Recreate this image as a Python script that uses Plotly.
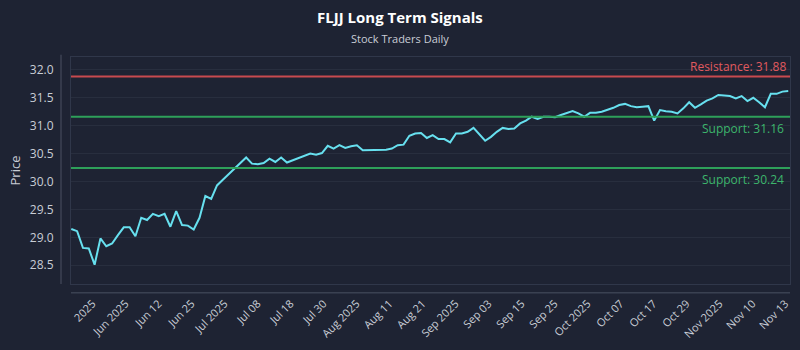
import plotly.graph_objects as go

# ---- data ----
prices = [
    29.15, 29.11, 28.81, 28.80, 28.51, 28.98, 28.84, 28.89, 29.04, 29.18,
    29.18, 29.02, 29.35, 29.31, 29.42, 29.38, 29.42, 29.19, 29.47, 29.22,
    29.21, 29.14, 29.35, 29.74, 29.69, 29.93, 30.03, 30.13, 30.22, 30.33,
    30.43, 30.32, 30.31, 30.33, 30.41, 30.35, 30.43, 30.34, 30.38, 30.43,
    30.46, 30.50, 30.48, 30.51, 30.64, 30.59, 30.65, 30.60, 30.63, 30.65,
    30.56, 30.56, 30.57, 30.57, 30.57, 30.59, 30.65, 30.66, 30.82, 30.86,
    30.87, 30.78, 30.83, 30.76, 30.76, 30.70, 30.86, 30.86, 30.89, 30.96,
    30.85, 30.73, 30.80, 30.89, 30.96, 30.94, 30.95, 31.04, 31.09, 31.16,
    31.12, 31.16, 31.16, 31.15, 31.19, 31.22, 31.26, 31.22, 31.16, 31.23,
    31.23, 31.25, 31.28, 31.32, 31.37, 31.39, 31.35, 31.33, 31.34, 31.35,
    31.09, 31.28, 31.26, 31.25, 31.22, 31.31, 31.42, 31.32, 31.38, 31.45,
    31.49, 31.55, 31.54, 31.53, 31.49, 31.53, 31.44, 31.50, 31.42, 31.33,
    31.57, 31.57, 31.61, 31.62,
]
x_index = list(range(len(prices)))

tick_labels = [
    "2025", "Jun 2025", "Jun 12", "Jun 25", "Jul 2025", "Jul 08", "Jul 18",
    "Jul 30", "Aug 2025", "Aug 11", "Aug 21", "Sep 2025", "Sep 03", "Sep 15",
    "Sep 25", "Oct 2025", "Oct 07", "Oct 17", "Oct 29", "Nov 2025", "Nov 10",
    "Nov 13",
]
tick_positions = [3.66 + 5.66 * i for i in range(len(tick_labels))]

resistance = 31.88
supports = [31.16, 30.24]

title_text = "FLJJ Long Term Signals"
subtitle_text = "Stock Traders Daily"

# ---- style ----
BG = "#1e2333"
TXT = "#c9cdd6"
LINE = "#67e0ef"
RED_LINE = "#c84a4f"
RED_TXT = "#e05a5f"
GRN_LINE = "#2ea05a"
GRN_TXT = "#3db56c"
FRAME = "#30374a"
AXIS = "#4a5163"
FONT = "Open Sans"

fig = go.Figure()
fig.add_trace(go.Scatter(
    x=x_index, y=prices, mode="lines",
    line=dict(color=LINE, width=2), hoverinfo="skip", showlegend=False,
))

shapes = [
    dict(type="line", xref="paper", yref="y", x0=0, x1=1, y0=resistance, y1=resistance,
         line=dict(color=RED_LINE, width=2)),
]
annotations = [
    dict(text=f"Resistance: {resistance:.2f}", xref="paper", yref="y", x=1, y=resistance,
         xanchor="right", yanchor="bottom", xshift=-2, yshift=0, showarrow=False,
         font=dict(family=FONT, size=12, color=RED_TXT)),
]
for s in supports:
    shapes.append(dict(type="line", xref="paper", yref="y", x0=0, x1=1, y0=s, y1=s,
                       line=dict(color=GRN_LINE, width=2)))
    annotations.append(dict(text=f"Support: {s:.2f}", xref="paper", yref="y", x=1, y=s,
                            xanchor="right", yanchor="top", xshift=-4, yshift=-1,
                            showarrow=False, font=dict(family=FONT, size=12, color=GRN_TXT)))

# offset axis lines
shapes.append(dict(type="line", xref="paper", yref="paper", x0=-0.0139, x1=-0.0139, y0=0, y1=1.01,
                   line=dict(color=AXIS, width=1)))
shapes.append(dict(type="line", xref="paper", yref="paper", x0=0, x1=1, y0=-0.039, y1=-0.039,
                   line=dict(color=AXIS, width=1)))

annotations.append(dict(text=f"<b>{title_text}</b>", xref="paper", yref="paper", x=0.457, y=1.178,
                        xanchor="center", yanchor="middle", showarrow=False,
                        font=dict(family=FONT, size=15, color="#ffffff")))
annotations.append(dict(text=subtitle_text, xref="paper", yref="paper", x=0.457, y=1.083,
                        xanchor="center", yanchor="middle", showarrow=False,
                        font=dict(family=FONT, size=11, color=TXT)))

fig.update_layout(
    width=800, height=350,
    margin=dict(l=71, r=9, t=57, b=63),
    paper_bgcolor=BG, plot_bgcolor=BG,
    font=dict(family=FONT, color=TXT),
    shapes=shapes, annotations=annotations,
    showlegend=False,
)
fig.update_xaxes(
    range=[-0.05, len(prices) - 1 + 0.3],
    tickmode="array", tickvals=tick_positions, ticktext=tick_labels,
    tickangle=-45, tickfont=dict(size=11, color=TXT),
    showgrid=False, zeroline=False,
    showline=True, mirror=True, linecolor=FRAME, linewidth=1,
    ticks="", ticklabelstandoff=8,
)
fig.update_yaxes(
    range=[28.164, 32.23], dtick=0.5, tick0=28.5, tickformat=".1f",
    tickfont=dict(size=12, color=TXT),
    showgrid=True, gridcolor="#282e3e", gridwidth=1, zeroline=False,
    showline=True, mirror=True, linecolor=FRAME, linewidth=1,
    ticks="", ticklabelstandoff=14,
    title=dict(text="Price", font=dict(size=13, color=TXT), standoff=6),
)

fig.write_html("out.html")
